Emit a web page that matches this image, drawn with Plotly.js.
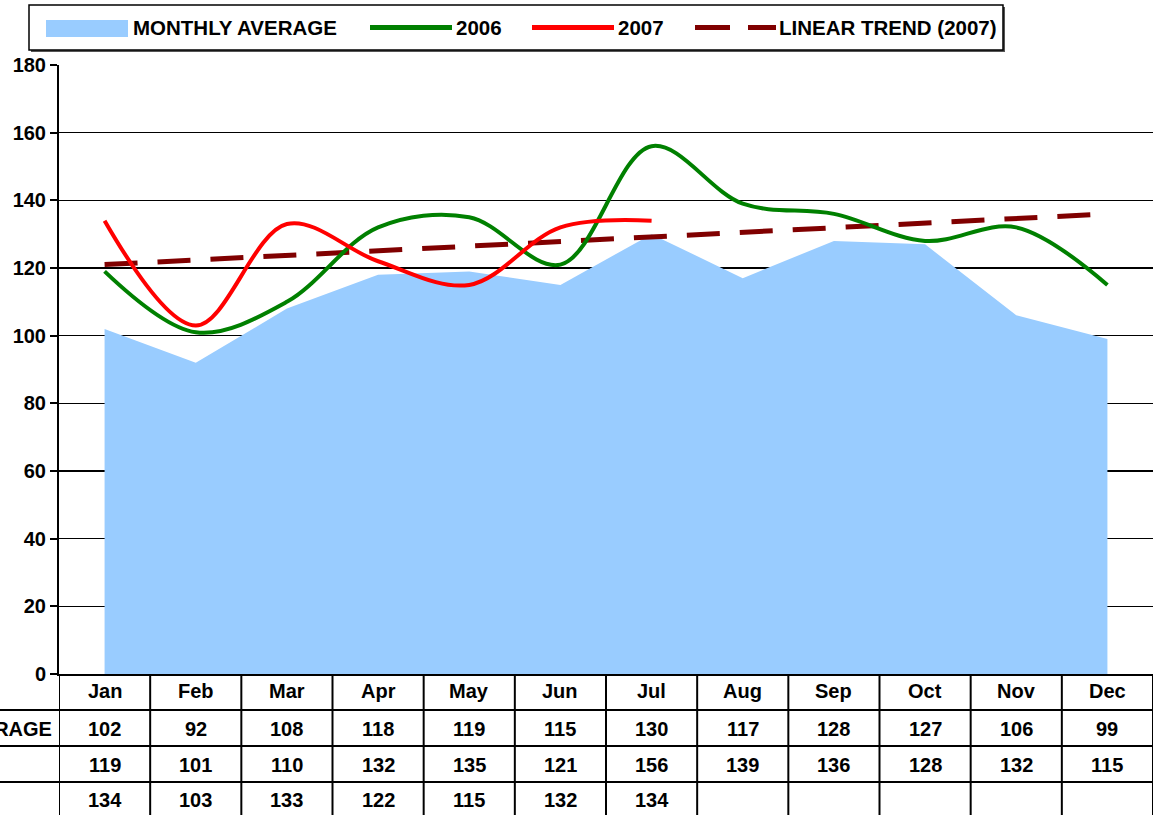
<!DOCTYPE html>
<html>
<head>
<meta charset="utf-8">
<script src="https://cdn.plot.ly/plotly-3.0.1.min.js"></script>
<style>html,body{margin:0;padding:0;background:#fff;}#chart{width:1155px;height:815px;}</style>
</head>
<body>
<div id="chart"></div>
<script>
const months = ["Jan","Feb","Mar","Apr","May","Jun","Jul","Aug","Sep","Oct","Nov","Dec"];
const monthlyAverage = [102,92,108,118,119,115,130,117,128,127,106,99];
const y2006 = [119,101,110,132,135,121,156,139,136,128,132,115];
const y2007 = [134,103,133,122,115,132,134];
const trendMonths = ["Jan","Dec"];
const trend2007 = [121,136];
const yTicks = [0,20,40,60,80,100,120,140,160,180];
const rowLabels = ["MONTHLY AVERAGE","",""];
const legendLabels = ["MONTHLY AVERAGE","2006","2007","LINEAR TREND (2007)"];

const W = 1155, H = 815;
const L = 59, R = 1153, T = 65, B = 674;
const px = p => (p - L) / (R - L);
const py = p => (B - p) / (B - T);
const FONT = "Arial, 'Liberation Sans', sans-serif";
const bold = (size) => ({family: FONT, size: size, color: "#000", weight: 700});

const traces = [
  {x: months, y: monthlyAverage, type: "scatter", mode: "none", fill: "tozeroy",
   fillcolor: "#99CCFF", name: legendLabels[0], showlegend: false, hoverinfo: "skip"},
  {x: trendMonths, y: trend2007, type: "scatter", mode: "lines", name: legendLabels[3],
   line: {color: "#800000", width: 5, dash: "33px,20px"}, showlegend: false},
  {x: months, y: y2006, type: "scatter", mode: "lines", name: legendLabels[1],
   line: {color: "#008000", width: 4, shape: "spline", smoothing: 1}, showlegend: false},
  {x: months.slice(0, y2007.length), y: y2007, type: "scatter", mode: "lines", name: legendLabels[2],
   line: {color: "#FF0000", width: 4, shape: "spline", smoothing: 1}, showlegend: false}
];

const shapes = [];
const annotations = [];

// data table grid
const rowLines = [710, 746, 782];
rowLines.forEach(yy => shapes.push({type: "line", xref: "paper", yref: "paper",
  x0: px(0), x1: px(R), y0: py(yy), y1: py(yy), line: {color: "#000", width: 2}}));
for (let k = 0; k <= months.length; k++) {
  shapes.push({type: "line", xref: "x", yref: "paper", x0: k - 0.5, x1: k - 0.5,
    y0: py(B), y1: py(H + 5), line: {color: "#000", width: 2}});
}
const rowCenters = [691, 729, 765, 800];
months.forEach((m, i) => annotations.push({xref: "x", yref: "paper", x: i, y: py(rowCenters[0]),
  text: m, showarrow: false, font: bold(20), xanchor: "center", yanchor: "middle"}));
const rows = [monthlyAverage, y2006, y2007];
rows.forEach((arr, r) => {
  arr.forEach((v, i) => annotations.push({xref: "x", yref: "paper", x: i, y: py(rowCenters[r + 1]),
    text: String(v), showarrow: false, font: bold(20), xanchor: "center", yanchor: "middle"}));
  if (rowLabels[r]) annotations.push({xref: "paper", yref: "paper", x: px(54), y: py(rowCenters[r + 1]),
    text: rowLabels[r], showarrow: false, font: bold(20), xanchor: "right", yanchor: "middle"});
});

// legend (drawn manually)
shapes.push({type: "rect", xref: "paper", yref: "paper", x0: px(31), x1: px(1005), y0: py(7), y1: py(52),
  fillcolor: "#555", line: {width: 0}});
shapes.push({type: "rect", xref: "paper", yref: "paper", x0: px(29), x1: px(1003), y0: py(5), y1: py(50),
  fillcolor: "#fff", line: {color: "#000", width: 1.5}});
shapes.push({type: "rect", xref: "paper", yref: "paper", x0: px(46), x1: px(128), y0: py(20), y1: py(37),
  fillcolor: "#99CCFF", line: {width: 0}});
shapes.push({type: "line", xref: "paper", yref: "paper", x0: px(370), x1: px(452), y0: py(27.5), y1: py(27.5),
  line: {color: "#008000", width: 5}});
shapes.push({type: "line", xref: "paper", yref: "paper", x0: px(532), x1: px(614), y0: py(27.5), y1: py(27.5),
  line: {color: "#FF0000", width: 5}});
shapes.push({type: "line", xref: "paper", yref: "paper", x0: px(695), x1: px(730), y0: py(27.5), y1: py(27.5),
  line: {color: "#800000", width: 5}});
shapes.push({type: "line", xref: "paper", yref: "paper", x0: px(748), x1: px(776), y0: py(27.5), y1: py(27.5),
  line: {color: "#800000", width: 5}});
const legendTextX = [131, 454, 616, 777];
legendLabels.forEach((t, i) => annotations.push({xref: "paper", yref: "paper", x: px(legendTextX[i]), y: py(28),
  text: t, showarrow: false, font: bold(20.5), xanchor: "left", yanchor: "middle"}));

const layout = {
  width: W, height: H,
  margin: {l: L, r: W - R, t: T, b: H - B, pad: 0},
  paper_bgcolor: "#fff", plot_bgcolor: "#fff",
  showlegend: false,
  xaxis: {type: "category", range: [-0.5, 11.5], showticklabels: false, ticks: "",
    showgrid: false, zeroline: false, showline: true, linecolor: "#000", linewidth: 2, fixedrange: true},
  yaxis: {range: [0, 180], tickvals: yTicks, ticktext: yTicks.map(String), ticks: "outside", ticklen: 7,
    tickcolor: "#000", tickwidth: 2, showline: true, linecolor: "#000", linewidth: 2,
    showgrid: true, gridcolor: "#000", gridwidth: 1.5, zeroline: false, tickfont: bold(20), fixedrange: true},
  shapes: shapes,
  annotations: annotations
};

Plotly.newPlot("chart", traces, layout, {displayModeBar: false, staticPlot: true});
</script>
</body>
</html>
